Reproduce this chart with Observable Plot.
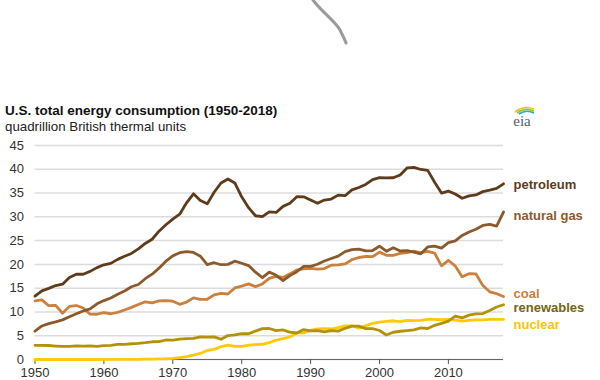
<!DOCTYPE html>
<html>
<head>
<meta charset="utf-8">
<script src="https://cdn.jsdelivr.net/npm/d3@7"></script>
<script src="https://cdn.jsdelivr.net/npm/@observablehq/plot@0.6"></script>
<style>
  html, body { margin: 0; padding: 0; background: #fff; }
  body { width: 600px; height: 380px; position: relative; overflow: hidden; font-family: "Liberation Sans", Arial, sans-serif; }
  #title { position: absolute; left: 5px; top: 103px; font-size: 13.5px; font-weight: bold; color: #111; white-space: nowrap; }
  #subtitle { position: absolute; left: 5px; top: 119px; font-size: 13.3px; color: #222; white-space: nowrap; }
  #chart { position: absolute; left: 0; top: 135px; }
  #deco { position: absolute; left: 0; top: 0; }
  #logo { position: absolute; left: 508px; top: 103px; }
</style>
</head>
<body>
<svg id="deco" width="600" height="60"><path d="M313,0 C322,12 336,22 340,30 C343,36 345,40 346,43" fill="none" stroke="#9a9a9a" stroke-width="3" stroke-linecap="round"/></svg>
<svg id="logo" width="30" height="26">
  <path d="M7,9 Q16,2 26,6" fill="none" stroke="#f2c500" stroke-width="1.6"/>
  <path d="M9,10 Q17,4 26,8" fill="none" stroke="#8cc63f" stroke-width="1.6"/>
  <path d="M11,11 Q18,6 26,10" fill="none" stroke="#2ea3dc" stroke-width="1.6"/>
  <text x="14" y="23" text-anchor="middle" font-family="Liberation Serif, serif" font-size="15" fill="#4d5e6e">eia</text>
</svg>
<div id="title">U.S. total energy consumption (1950-2018)</div>
<div id="subtitle">quadrillion British thermal units</div>
<div id="chart"></div>
<script>
const years = d3.range(1950, 2019);

const petroleum = [13.32,14.43,14.96,15.56,15.84,17.25,17.94,17.93,18.53,19.32,
  19.92,20.22,21.05,21.70,22.30,23.25,24.40,25.28,26.98,28.34,
  29.52,30.56,32.95,34.84,33.45,32.73,35.17,37.12,37.97,37.12,
  34.20,31.93,30.23,30.05,31.05,30.92,32.20,32.86,34.22,34.21,
  33.55,32.85,33.53,33.74,34.56,34.44,35.67,36.16,36.82,37.84,
  38.26,38.19,38.22,38.81,40.29,40.39,39.96,39.77,37.28,35.00,
  35.40,34.80,33.90,34.40,34.60,35.30,35.60,36.00,36.94];

const naturalGas = [5.97,7.05,7.55,7.91,8.33,9.00,9.61,10.19,10.66,11.72,
  12.39,12.93,13.73,14.40,15.29,15.77,16.99,17.94,19.21,20.68,
  21.79,22.47,22.70,22.51,21.73,19.95,20.35,19.93,20.00,20.67,
  20.24,19.75,18.36,17.20,18.39,17.70,16.59,17.64,18.45,19.60,
  19.60,20.03,20.71,21.23,21.73,22.67,23.09,23.22,22.83,22.91,
  23.82,22.77,23.51,22.83,22.91,22.56,22.22,23.66,23.84,23.42,
  24.57,24.95,26.09,26.81,27.38,28.19,28.40,28.03,31.00];

const coal = [12.35,12.55,11.31,11.37,9.72,11.17,11.35,10.82,9.53,9.52,
  9.84,9.62,9.91,10.41,10.96,11.58,12.14,11.91,12.33,12.38,
  12.27,11.60,12.08,12.97,12.66,12.66,13.58,13.92,13.77,15.04,
  15.42,15.91,15.32,15.89,17.07,17.48,17.26,18.01,18.85,19.07,
  19.17,18.99,19.12,19.84,19.91,20.09,21.00,21.45,21.66,21.62,
  22.58,21.91,21.90,22.32,22.47,22.80,22.45,22.75,22.39,19.69,
  20.83,19.66,17.38,18.04,17.99,15.55,14.23,13.84,13.25];

const renewables = [2.98,2.96,2.94,2.83,2.75,2.78,2.85,2.83,2.86,2.78,
  2.93,2.99,3.16,3.19,3.31,3.40,3.53,3.73,3.76,4.10,
  4.08,4.27,4.40,4.43,4.77,4.72,4.77,4.25,5.04,5.17,
  5.43,5.41,5.98,6.50,6.52,6.08,6.21,5.74,5.57,6.29,
  6.04,6.07,5.82,6.07,5.97,6.56,7.01,7.02,6.49,6.51,
  6.10,5.16,5.73,5.94,6.07,6.23,6.64,6.52,7.19,7.60,
  8.07,9.11,8.76,9.32,9.58,9.66,10.32,11.04,11.52];

const nuclear = [0,0,0,0,0,0,0,0.0001,0.002,0.002,
  0.006,0.02,0.026,0.038,0.04,0.043,0.064,0.088,0.142,0.154,
  0.239,0.413,0.584,0.910,1.272,1.900,2.111,2.702,3.024,2.776,
  2.739,3.008,3.131,3.203,3.553,4.076,4.380,4.754,5.587,5.602,
  6.104,6.422,6.479,6.410,6.694,7.075,7.087,6.597,7.068,7.610,
  7.862,8.029,8.145,7.959,8.222,8.161,8.215,8.459,8.426,8.355,
  8.434,8.269,8.062,8.244,8.338,8.337,8.427,8.419,8.438];

const seriesNames = ["nuclear", "renewables", "coal", "natural gas", "petroleum"];
const seriesValues = { "petroleum": petroleum, "natural gas": naturalGas, "coal": coal, "renewables": renewables, "nuclear": nuclear };
const lineColors = { "petroleum": "#5e3c1b", "natural gas": "#8c5a2a", "coal": "#cc803d", "renewables": "#b39208", "nuclear": "#ffc90a" };
const labelColors = { "petroleum": "#5e3c1b", "natural gas": "#8c5a2e", "coal": "#c8813f", "renewables": "#76650f", "nuclear": "#ffc400" };
const labelDy = { "petroleum": 1, "natural gas": 4, "coal": -3, "renewables": 3, "nuclear": 5 };

const xTicks = [1950, 1960, 1970, 1980, 1990, 2000, 2010];
const yTicks = [0, 5, 10, 15, 20, 25, 30, 35, 40, 45];

const rows = [];
for (const s of seriesNames) {
  seriesValues[s].forEach((v, i) => rows.push({ series: s, year: years[i], value: v }));
}
const lastRows = seriesNames.map(s => ({ series: s, year: years[years.length - 1], value: seriesValues[s][years.length - 1] }));

const chart = Plot.plot({
  width: 600,
  height: 245,
  marginTop: 10,
  marginBottom: 21,
  marginLeft: 34.5,
  marginRight: 97,
  style: { fontFamily: "Liberation Sans, Arial, sans-serif", background: "transparent", overflow: "visible" },
  x: { domain: [1950, 2018] },
  y: { domain: [0, 45] },
  marks: [
    Plot.gridY(yTicks, { stroke: "#dcdcdc", strokeOpacity: 1, strokeWidth: 1.5 }),
    Plot.axisY(yTicks, { tickSize: 0, tickPadding: 11, fontSize: 13, fill: "#333", label: null }),
    Plot.ruleY([0], { stroke: "#666", strokeWidth: 1.2 }),
    Plot.axisX(xTicks, { tickSize: 5, tickPadding: 3, stroke: "#555", fontSize: 13, fill: "#333", tickFormat: d => String(d), label: null }),
    ...seriesNames.map(s => Plot.line(rows.filter(r => r.series === s), {
      x: "year", y: "value", stroke: lineColors[s], strokeWidth: 2.8, strokeLinejoin: "round", strokeLinecap: "round"
    })),
    ...seriesNames.map(s => Plot.text(lastRows.filter(r => r.series === s), {
      x: "year", y: "value", text: "series", textAnchor: "start", dx: 10, dy: labelDy[s],
      fill: labelColors[s], fontSize: 13, fontWeight: "bold"
    }))
  ]
});
document.getElementById("chart").appendChild(chart);
</script>
</body>
</html>
